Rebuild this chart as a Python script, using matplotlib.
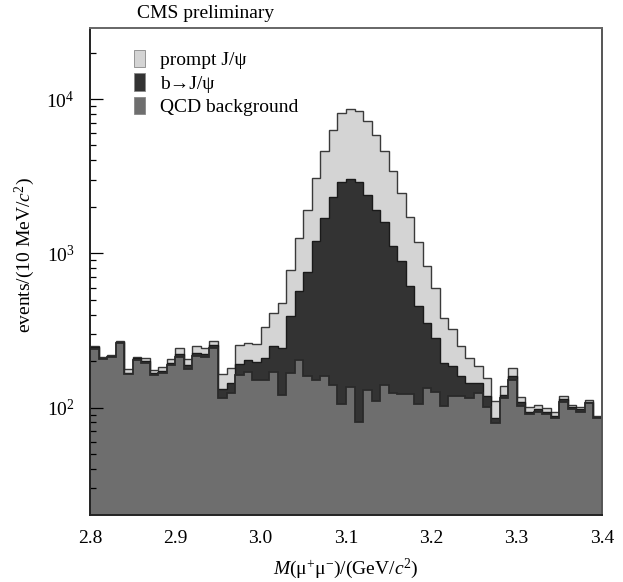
#!/usr/bin/env python3

import numpy as np
import matplotlib as mpl

from matplotlib import pyplot as plt
from matplotlib.patches import Patch

# 10 MeV bins from 2.8 to 3.4 GeV
edges = np.round(np.linspace(2.8, 3.4, 61), 3)

qcd = [240, 207, 214, 262, 165, 204, 194, 163, 167, 189,
       214, 177, 216, 214, 243, 115, 124, 163, 171, 151,
       151, 169, 121, 167, 202, 159, 151, 160, 140, 105,
       135, 80, 130, 110, 140, 125, 123, 123, 106, 134,
       127, 103, 118, 118, 115, 125, 101, 79, 115, 151,
       103, 91, 94, 91, 85, 109, 98, 94, 107, 85]

b_jpsi = [6, 4, 3, 4, 3, 4, 6, 4, 5, 6,
          8, 13, 9, 8, 12, 16, 20, 29, 33, 45,
          58, 80, 122, 226, 370, 592, 1042, 1531, 2194, 2772,
          2905, 2797, 2263, 1785, 1467, 994, 762, 492, 351, 218,
          155, 91, 68, 41, 30, 20, 17, 6, 5, 10,
          5, 3, 4, 3, 3, 4, 3, 4, 2, 2]

prompt = [5, 3, 3, 5, 9, 6, 9, 9, 11, 11,
          21, 16, 26, 21, 17, 34, 36, 62, 60, 63,
          126, 164, 236, 389, 682, 1144, 1880, 2880, 3990, 5233,
          5610, 5433, 4762, 3975, 2964, 2309, 1570, 1101, 718, 469,
          312, 189, 136, 90, 64, 41, 37, 25, 17, 19,
          9, 7, 6, 6, 5, 5, 3, 3, 3, 1]

labels = ["prompt J/\u03c8", "b\u2192J/\u03c8", "QCD background"]
colors = ["#d4d4d4", "#333333", "#6e6e6e"]


def main():
    mpl.rcParams['font.family'] = ['Liberation Serif', 'DejaVu Serif']
    mpl.rcParams['mathtext.fontset'] = 'custom'
    mpl.rcParams['mathtext.rm'] = 'Liberation Serif'
    mpl.rcParams['mathtext.it'] = 'Liberation Serif:italic'

    fig = plt.figure(figsize=(6.23, 5.82), dpi=100)
    ax = fig.add_axes([90 / 623, 1 - 514.7 / 582, 512 / 623, 487 / 582])

    q = np.array(qcd, dtype=float)
    qb = q + np.array(b_jpsi)
    total = qb + np.array(prompt)

    for top, col, lw, ec in [(total, colors[0], 1.0, '#3a3a3a'),
                             (qb, colors[1], 1.0, '#1a1a1a'),
                             (q, colors[2], 1.3, '#2a2a2a')]:
        ax.stairs(top, edges, baseline=1, fill=True, color=col, lw=0)
        ax.stairs(top, edges, baseline=None, color=ec, lw=lw)

    ax.set_yscale('log')
    ax.set_xlim(2.8, 3.4)
    ax.set_ylim(20.2, 29000)

    ax.set_xticks([2.8, 2.9, 3.0, 3.1, 3.2, 3.3, 3.4])
    ax.set_xticklabels(['2.8', '2.9', '3.0', '3.1', '3.2', '3.3', '3.4'])
    ax.tick_params(axis='x', length=0, pad=11, labelsize=14)
    ax.tick_params(axis='y', which='major', direction='in', length=9.5, width=0.9,
                   pad=11, labelsize=14)
    ax.tick_params(axis='y', which='minor', direction='in', length=4.3, width=0.9)

    for side in ['left', 'right', 'top', 'bottom']:
        ax.spines[side].set_linewidth(1.4)
        ax.spines[side].set_color('#222222')
    ax.spines['top'].set_color('#666666')
    ax.spines['right'].set_color('#555555')

    ax.set_xlabel(r'$M$(μ$^{+}$μ$^{-}$)/(GeV/$c^2$)', fontsize=14, labelpad=7)
    ax.set_ylabel(r'events/(10 MeV/$c^2$)', fontsize=14)
    ax.yaxis.set_label_coords(-0.103, 0.533)

    ax.text(0.092, 1.030, 'CMS preliminary', transform=ax.transAxes,
            fontsize=14, va='center', ha='left')

    handles = [Patch(facecolor=c, edgecolor='#888888', lw=0.6) for c in colors]
    ax.legend(handles, labels, loc='upper left', bbox_to_anchor=(0.07, 0.97),
              frameon=False, fontsize=14, handlelength=0.6, handleheight=1.0,
              handletextpad=0.75, labelspacing=0.2, borderaxespad=0)

    fig.savefig('out.png', dpi=100)


if __name__ == "__main__":
    main()
